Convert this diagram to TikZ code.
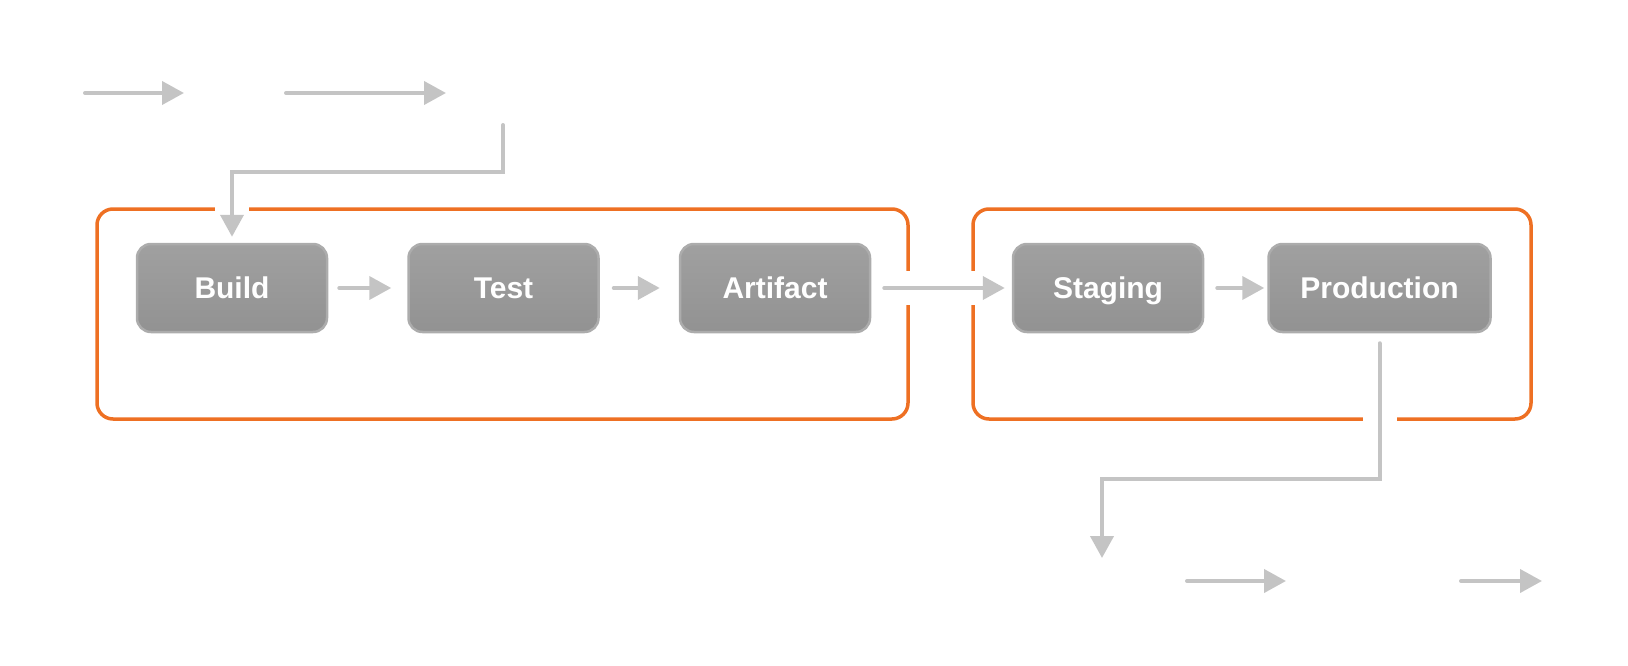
\documentclass[tikz,border=0pt]{standalone}
\usepackage{fontspec}
\newfontfamily\stagefont{Liberation Sans}
\usetikzlibrary{arrows.meta,positioning}
\definecolor{frameorange}{RGB}{238,112,35}
\definecolor{flowgray}{RGB}{196,196,196}
\definecolor{boxgray}{RGB}{146,146,146}
\definecolor{boxtop}{RGB}{160,160,160}
\definecolor{boxedge}{RGB}{172,172,172}

\begin{document}
\begin{tikzpicture}[x=1pt,y=-1pt,
    flow/.style={-{Triangle[length=22pt,width=23pt]},line width=4pt,draw=flowgray,line cap=round},
    knockout/.style={preaction={draw=white,line width=34pt,line cap=butt,-}},
    grp/.style={draw=frameorange,line width=3.5pt,rounded corners=16pt,minimum height=210pt},
    stage/.style={draw=boxedge,line width=2.5pt,rounded corners=14pt,top color=boxtop,bottom color=boxgray,
      minimum width=190pt,minimum height=88pt,text height=22pt,text depth=0.5pt,text=white,
      font=\stagefont\bfseries\fontsize{30}{36}\selectfont}]
\useasboundingbox (0,0) rectangle (1628,666);
% ===== group frames =====
\node[grp,minimum width=811pt] (ci) at (502.5,314) {};
\node[grp,minimum width=558pt] (cd) at (1252,314) {};
% ===== pipeline stages =====
\node[stage] (build) at (232,288) {Build};
\node[stage,right=79pt of build] (test) {Test};
\node[stage,right=79pt of test] (artifact) {Artifact};
\node[stage] (staging) at (1108,288) {Staging};
\node[stage,minimum width=222pt,right=63pt of staging] (prod) {Production};
% ===== free ends =====
\coordinate (push) at (85,93);
\coordinate (pushend) at (184,93);
\coordinate (hook) at (286,93);
\coordinate (hookend) at (446,93);
\coordinate (feed) at (503,125);
\coordinate (release) at (1102,558);
\coordinate (notify) at (1187,581);
\coordinate (notifyend) at (1286,581);
\coordinate (monitor) at (1461,581);
\coordinate (monitorend) at (1542,581);
% ===== connectors =====
\draw[flow] (push) -- (pushend);
\draw[flow] (hook) -- (hookend);
\draw[flow,knockout,shorten >=6pt] (feed) -- ++(0,47) -| (build.north);
\draw[flow,shorten <=11pt,shorten >=16pt] (build) -- (test);
\draw[flow,shorten <=14pt,shorten >=19pt] (test) -- (artifact);
\draw[flow,knockout,shorten <=13pt,shorten >=7pt] (artifact) -- (staging);
\draw[flow,shorten <=13pt,shorten >=3pt] (staging) -- (prod);
\draw[flow,knockout,shorten <=10pt] (prod.south) -- ++(0,146) -| (release);
\draw[flow] (notify) -- (notifyend);
\draw[flow] (monitor) -- (monitorend);
\end{tikzpicture}
\end{document}
